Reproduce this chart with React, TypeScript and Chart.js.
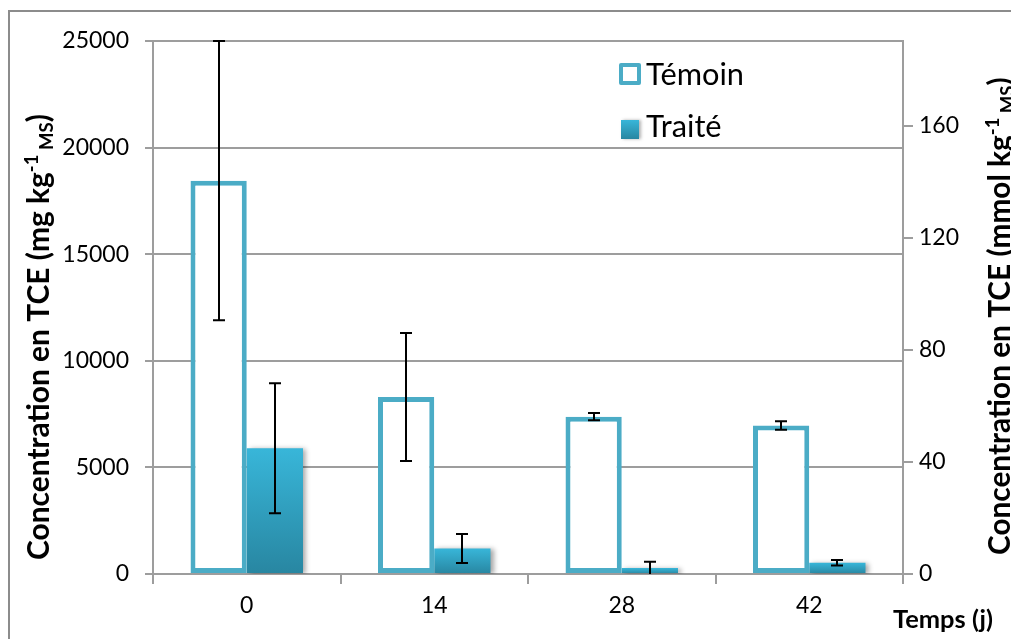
import { useEffect, useRef } from 'react';
import { Chart, registerables } from 'chart.js';

Chart.register(...registerables);

// ---- data ----
const categories = ['0', '14', '28', '42'];
const temoin = [18450, 8300, 7380, 6970];
const temoinErr = [6550, 3000, 170, 200];
const traite = [5900, 1200, 280, 530];
const traiteErr = [3050, 680, 300, 130];
const leftMax = 25000;
const leftStep = 5000;
const rightStep = 40;
const tceMolarMass = 131.39; // g/mol, links the two axes

const FAM = 'Lato, "Open Sans", sans-serif';
const BLUE = '#4bacc6';
const GRID = '#9d9d9d';

function traiteGradient(ctx: CanvasRenderingContext2D, top: number, bottom: number) {
  const g = ctx.createLinearGradient(0, top, 0, bottom);
  g.addColorStop(0, '#38b6d9');
  g.addColorStop(1, '#2886a1');
  return g;
}

function fitSize(ctx: CanvasRenderingContext2D, text: string, weight: string, target: number) {
  ctx.font = `${weight} 40px ${FAM}`;
  const w = ctx.measureText(text).width;
  return (40 * target) / w;
}

type Part = { text: string; size: number; dy: number };
function drawRotated(ctx: CanvasRenderingContext2D, x: number, y: number, parts: Part[]) {
  ctx.save();
  ctx.translate(x, y);
  ctx.rotate(-Math.PI / 2);
  ctx.fillStyle = '#000';
  ctx.textBaseline = 'alphabetic';
  ctx.textAlign = 'left';
  let cx = 0;
  for (const p of parts) {
    ctx.font = `bold ${p.size}px ${FAM}`;
    ctx.fillText(p.text, cx, p.dy);
    cx += ctx.measureText(p.text).width;
  }
  ctx.restore();
}

const decorPlugin = {
  id: 'decor',
  beforeDraw(chart: any) {
    const ctx = chart.ctx as CanvasRenderingContext2D;
    ctx.save();
    ctx.fillStyle = '#fff';
    ctx.fillRect(0, 0, chart.width, chart.height);
    ctx.strokeStyle = '#8c8c8c';
    ctx.lineWidth = 2;
    ctx.strokeRect(9, 11, 1100, 1000);
    ctx.restore();
  },
  beforeDatasetDraw(chart: any, args: any) {
    if (args.index === 1) {
      const ctx = chart.ctx as CanvasRenderingContext2D;
      ctx.save();
      ctx.shadowColor = 'rgba(0,0,0,0.35)';
      ctx.shadowBlur = 5;
      ctx.shadowOffsetX = 3;
      ctx.shadowOffsetY = 1;
    }
  },
  afterDatasetDraw(chart: any, args: any) {
    if (args.index === 1) chart.ctx.restore();
  },
  afterDatasetsDraw(chart: any) {
    const ctx = chart.ctx as CanvasRenderingContext2D;
    const ys = chart.scales.y;
    const sets = [
      { vals: temoin, errs: temoinErr },
      { vals: traite, errs: traiteErr },
    ];
    ctx.save();
    ctx.strokeStyle = '#000';
    ctx.lineWidth = 2;
    sets.forEach((s, di) => {
      const meta = chart.getDatasetMeta(di);
      meta.data.forEach((el: any, i: number) => {
        const hiV = s.vals[i] + s.errs[i];
        let loV = s.vals[i] - s.errs[i];
        const clipped = loV < 0;
        if (clipped) loV = 0;
        const x = Math.round(el.x);
        const yh = ys.getPixelForValue(hiV);
        const yl = ys.getPixelForValue(loV);
        ctx.beginPath();
        ctx.moveTo(x, yh);
        ctx.lineTo(x, yl);
        ctx.moveTo(x - 6, yh);
        ctx.lineTo(x + 6, yh);
        if (!clipped) {
          ctx.moveTo(x - 6, yl);
          ctx.lineTo(x + 6, yl);
        }
        ctx.stroke();
      });
    });
    ctx.restore();
  },
  afterDraw(chart: any) {
    const ctx = chart.ctx as CanvasRenderingContext2D;
    // axis titles
    const leftMain = 'Concentration en TCE (mg kg';
    const s1 = fitSize(ctx, leftMain, 'bold', 388);
    drawRotated(ctx, 49, 560, [
      { text: leftMain, size: s1, dy: 0 },
      { text: '-1', size: s1 * 0.62, dy: -11 },
      { text: ' MS', size: s1 * 0.62, dy: 4 },
      { text: ')', size: s1, dy: 0 },
    ]);
    const rightMain = 'Concentration en TCE (mmol kg';
    const s2 = fitSize(ctx, rightMain, 'bold', 420);
    drawRotated(ctx, 1010, 555, [
      { text: rightMain, size: s2, dy: 0 },
      { text: '-1', size: s2 * 0.62, dy: -11 },
      { text: ' MS', size: s2 * 0.62, dy: 4 },
      { text: ')', size: s2, dy: 0 },
    ]);
    // x title
    ctx.save();
    const sx = fitSize(ctx, 'Temps (j)', 'bold', 100);
    ctx.font = `bold ${sx}px ${FAM}`;
    ctx.fillStyle = '#000';
    ctx.textBaseline = 'alphabetic';
    ctx.fillText('Temps (j)', 893, 628);

    // legend
    ctx.lineJoin = 'round';
    ctx.lineWidth = 4;
    ctx.strokeStyle = BLUE;
    ctx.fillStyle = '#fff';
    ctx.fillRect(621, 65, 18, 18);
    ctx.strokeRect(621, 65, 18, 18);
    ctx.save();
    ctx.shadowColor = 'rgba(0,0,0,0.3)';
    ctx.shadowBlur = 3;
    ctx.shadowOffsetX = 2;
    ctx.fillStyle = traiteGradient(ctx, 120, 139);
    ctx.fillRect(621, 120, 18, 19);
    ctx.restore();
    const ls = fitSize(ctx, 'Témoin', 'normal', 98);
    ctx.font = `${ls}px ${FAM}`;
    ctx.fillStyle = '#000';
    ctx.fillText('Témoin', 646, 85);
    ctx.fillText('Traité', 646, 137);
    ctx.restore();
  },
};

export default function App() {
  const ref = useRef<HTMLCanvasElement>(null);
  useEffect(() => {
    if (!ref.current) return;
    const tickFont = { family: FAM, size: 23 };
    const plain = (v: any) => String(v);
    const chart = new Chart(ref.current, {
      type: 'bar',
      data: {
        labels: categories,
        datasets: [
          {
            label: 'Témoin',
            data: temoin,
            backgroundColor: '#ffffff',
            borderColor: BLUE,
            borderWidth: 5,
            borderSkipped: false,
            yAxisID: 'y',
            categoryPercentage: 0.6,
            barPercentage: 1,
          },
          {
            label: 'Traité',
            data: traite,
            backgroundColor: (c: any) => {
              const chart = c.chart;
              if (!chart.chartArea || c.type !== 'data') return '#36b0d2';
              const ys = chart.scales.y;
              return traiteGradient(chart.ctx, ys.getPixelForValue(c.raw), ys.getPixelForValue(0));
            },
            borderWidth: 0,
            yAxisID: 'y',
            categoryPercentage: 0.6,
            barPercentage: 1,
          },
        ],
      },
      options: {
        responsive: false,
        animation: false,
        layout: { padding: { top: 41, left: 0, right: 0, bottom: 0 } },
        plugins: { legend: { display: false }, tooltip: { enabled: false } },
        scales: {
          x: {
            type: 'category',
            offset: true,
            grid: { offset: true, drawOnChartArea: false, tickLength: 10, color: GRID, lineWidth: 2 },
            border: { color: GRID, width: 2 },
            ticks: { font: tickFont, color: '#000', padding: 8 },
            afterFit: (s: any) => { s.height = 65; },
          },
          y: {
            position: 'left',
            min: 0,
            max: leftMax,
            ticks: { stepSize: leftStep, font: tickFont, color: '#000', padding: 16, callback: plain },
            grid: { color: GRID, lineWidth: 2, tickLength: 8 },
            border: { color: GRID, width: 2 },
            afterFit: (s: any) => { s.width = 153; },
          },
          y1: {
            position: 'right',
            display: true,
            min: 0,
            max: leftMax / tceMolarMass,
            ticks: { stepSize: rightStep, includeBounds: false, font: tickFont, color: '#000', padding: 6, callback: plain },
            grid: { drawOnChartArea: false, color: GRID, lineWidth: 2, tickLength: 10 },
            border: { color: GRID, width: 2 },
            afterFit: (s: any) => { s.width = 108; },
          },
        },
      },
      plugins: [decorPlugin],
    });
    return () => chart.destroy();
  }, []);
  return (
    <div style={{ position: 'fixed', left: 0, top: 0, width: 1011, height: 639, background: '#fff' }}>
      <canvas ref={ref} width={1011} height={639} style={{ display: 'block' }} />
    </div>
  );
}
